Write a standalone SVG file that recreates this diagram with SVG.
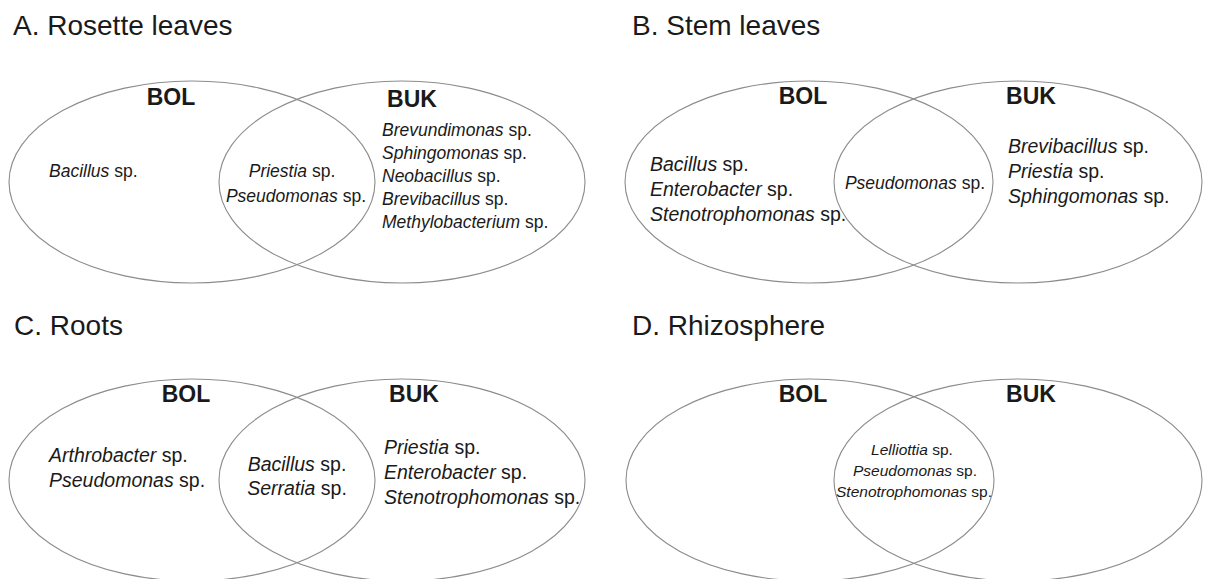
<svg xmlns="http://www.w3.org/2000/svg" width="1213" height="579" viewBox="0 0 1213 579">
<style>
.bg{fill:#fff}
.e{fill:none;stroke:#8c8c8c;stroke-width:1.1}
.t{font-family:"Liberation Sans",Arial,sans-serif;font-size:28px;fill:#1a1a1a}
.h{font-family:"Liberation Sans",Arial,sans-serif;font-size:23px;font-weight:bold;fill:#1a1a1a;text-anchor:middle}
.s{font-family:"Liberation Sans",Arial,sans-serif;fill:#1a1a1a}
.m{text-anchor:middle}
.i{font-style:italic}
.f17{font-size:17.5px}
.f19{font-size:19.5px}
.f15{font-size:15.5px}
</style>
<rect class="bg" x="0" y="0" width="1213" height="579"/>
<g id="panelA">
  <text class="t" x="13" y="35">A. Rosette leaves</text>
  <g id="A-BOL">
    <ellipse class="e" cx="192" cy="182" rx="183" ry="101"/>
    <text class="h" x="171" y="105">BOL</text>
    <text class="s f17" x="49" y="177"><tspan class="i">Bacillus</tspan> sp.</text>
  </g>
  <g id="A-BUK">
    <ellipse class="e" cx="402" cy="182" rx="183" ry="101"/>
    <text class="h" x="412" y="107">BUK</text>
    <text class="s f17" x="382" y="136"><tspan class="i">Brevundimonas</tspan> sp.</text>
    <text class="s f17" x="382" y="159"><tspan class="i">Sphingomonas</tspan> sp.</text>
    <text class="s f17" x="382" y="182"><tspan class="i">Neobacillus</tspan> sp.</text>
    <text class="s f17" x="382" y="205"><tspan class="i">Brevibacillus</tspan> sp.</text>
    <text class="s f17" x="382" y="228"><tspan class="i">Methylobacterium</tspan> sp.</text>
  </g>
  <g id="A-both">
    <text class="s f17 m" x="292" y="177"><tspan class="i">Priestia</tspan> sp.</text>
    <text class="s f17 m" x="296" y="202"><tspan class="i">Pseudomonas</tspan> sp.</text>
  </g>
</g>
<g id="panelB">
  <text class="t" x="632" y="35">B. Stem leaves</text>
  <g id="B-BOL">
    <ellipse class="e" cx="809" cy="182" rx="184" ry="101"/>
    <text class="h" x="803" y="104">BOL</text>
    <text class="s f19" x="650" y="171"><tspan class="i">Bacillus</tspan> sp.</text>
    <text class="s f19" x="650" y="196"><tspan class="i">Enterobacter</tspan> sp.</text>
    <text class="s f19" x="650" y="221"><tspan class="i">Stenotrophomonas</tspan> sp.</text>
  </g>
  <g id="B-BUK">
    <ellipse class="e" cx="1018" cy="182" rx="184" ry="101"/>
    <text class="h" x="1031" y="104">BUK</text>
    <text class="s f19" x="1008" y="153"><tspan class="i">Brevibacillus</tspan> sp.</text>
    <text class="s f19" x="1008" y="178"><tspan class="i">Priestia</tspan> sp.</text>
    <text class="s f19" x="1008" y="203"><tspan class="i">Sphingomonas</tspan> sp.</text>
  </g>
  <g id="B-both">
    <text class="s f17 m" x="915" y="189"><tspan class="i">Pseudomonas</tspan> sp.</text>
  </g>
</g>
<g id="panelC">
  <text class="t" x="14" y="335">C. Roots</text>
  <g id="C-BOL">
    <ellipse class="e" cx="192" cy="480" rx="183" ry="101"/>
    <text class="h" x="186" y="402">BOL</text>
    <text class="s f19" x="49" y="462"><tspan class="i">Arthrobacter</tspan> sp.</text>
    <text class="s f19" x="49" y="487"><tspan class="i">Pseudomonas</tspan> sp.</text>
  </g>
  <g id="C-BUK">
    <ellipse class="e" cx="402" cy="480" rx="183" ry="101"/>
    <text class="h" x="414" y="402">BUK</text>
    <text class="s f19" x="384" y="454"><tspan class="i">Priestia</tspan> sp.</text>
    <text class="s f19" x="384" y="479"><tspan class="i">Enterobacter</tspan> sp.</text>
    <text class="s f19" x="384" y="504"><tspan class="i">Stenotrophomonas</tspan> sp.</text>
  </g>
  <g id="C-both">
    <text class="s f19 m" x="297" y="471"><tspan class="i">Bacillus</tspan> sp.</text>
    <text class="s f19 m" x="297" y="495"><tspan class="i">Serratia</tspan> sp.</text>
  </g>
</g>
<g id="panelD">
  <text class="t" x="632" y="335">D. Rhizosphere</text>
  <g id="D-BOL">
    <ellipse class="e" cx="810" cy="480" rx="184" ry="101"/>
    <text class="h" x="803" y="402">BOL</text>
  </g>
  <g id="D-BUK">
    <ellipse class="e" cx="1018" cy="480" rx="184" ry="101"/>
    <text class="h" x="1031" y="402">BUK</text>
  </g>
  <g id="D-both">
    <text class="s f15 m" x="912" y="455"><tspan class="i">Lelliottia</tspan> sp.</text>
    <text class="s f15 m" x="915" y="476"><tspan class="i">Pseudomonas</tspan> sp.</text>
    <text class="s f15 m" x="914" y="497"><tspan class="i">Stenotrophomonas</tspan> sp.</text>
  </g>
</g>
<g id="connectors"></g>
</svg>
